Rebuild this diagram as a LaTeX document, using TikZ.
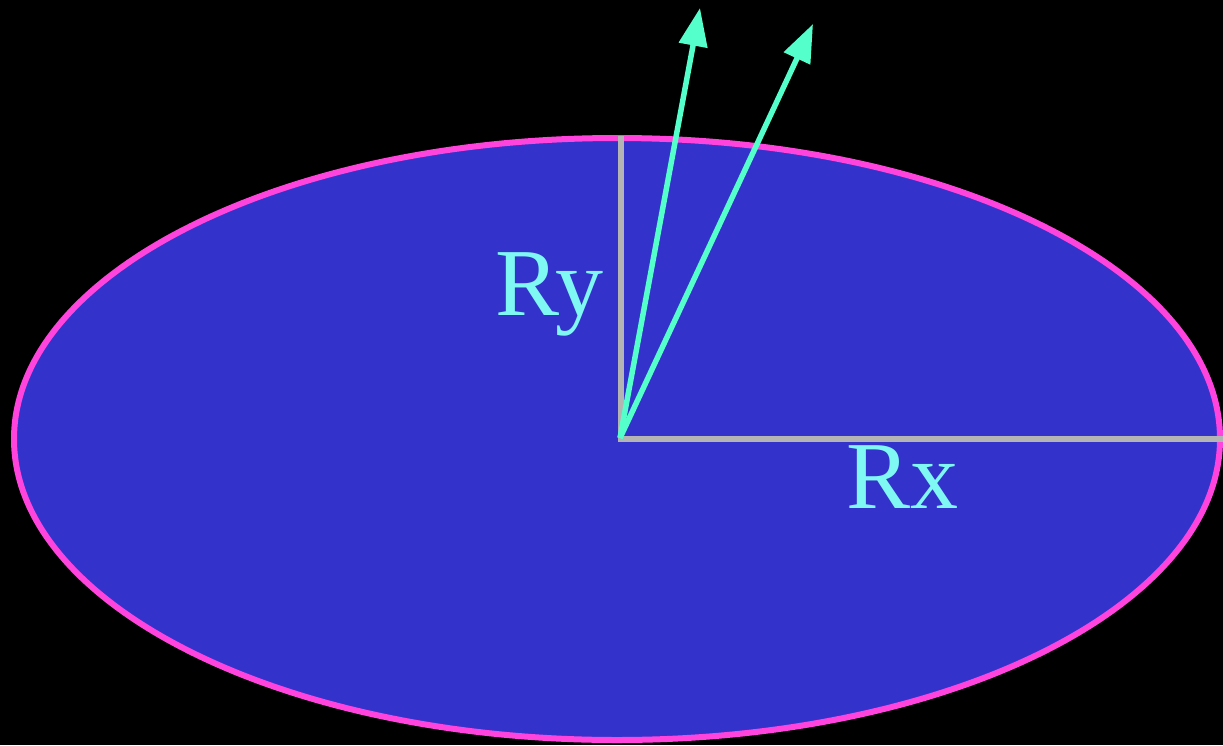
\documentclass[tikz,border=0pt]{standalone}
\usepackage{fontspec}
\setmainfont{Liberation Serif}
\usetikzlibrary{arrows.meta}
\definecolor{bgblack}{HTML}{000000}
\definecolor{ellfill}{HTML}{3333CC}
\definecolor{ellborder}{HTML}{FF44DD}
\definecolor{axisgray}{HTML}{B4B4B4}
\definecolor{arrowcol}{HTML}{55FFCC}
\definecolor{labelcol}{HTML}{7FF8F4}
\tikzset{
  axisline/.style={draw=axisgray, line width=6pt},
  vecarrow/.style={draw=arrowcol, line width=5.5pt, -{Triangle[length=38pt,width=28pt]}, fill=arrowcol},
  radlabel/.style={text=labelcol, inner sep=0pt, anchor=base west, font=\fontsize{96}{96}\selectfont}
}
\begin{document}
\begin{tikzpicture}[x=1pt,y=-1pt]
\useasboundingbox (0,0) rectangle (1223,745);
\fill[bgblack] (0,0) rectangle (1223,745);
\draw[ellborder, fill=ellfill, line width=6pt] (617,439) ellipse [x radius=603, y radius=301];
\coordinate (o) at (621,439);
\coordinate (top) at (621,136);
\coordinate (right) at (1223,439);
\coordinate (t1) at (700,8);
\coordinate (t2) at (813,24);
\draw[axisline] (top) -- (621,442);
\draw[axisline] (618,439) -- (right);
\draw[vecarrow] (620,438) -- (t1);
\draw[vecarrow] (620,438) -- (t2);
\node[radlabel] (ry) at (495,315) {Ry};
\node[radlabel] (rx) at (846,508) {Rx};
\end{tikzpicture}
\end{document}
